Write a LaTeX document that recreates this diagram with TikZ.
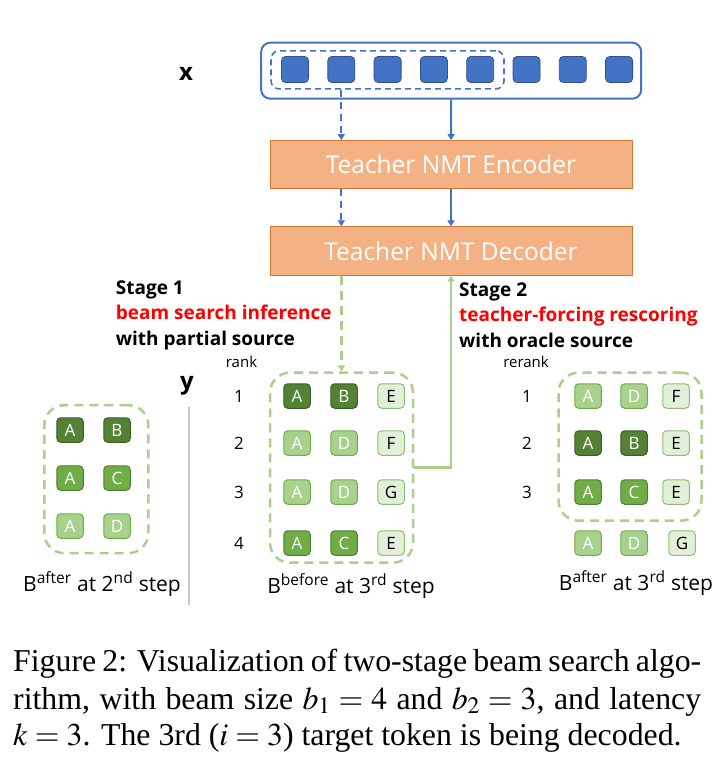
\documentclass[tikz,border=0pt]{standalone}
\usepackage{mathptmx}
\usepackage{fontspec}
\setmainfont{Liberation Serif}
\newfontfamily\diag{Open Sans}
\usetikzlibrary{arrows.meta,positioning,calc}
\definecolor{srcblue}{HTML}{4472C4}
\definecolor{srcline}{HTML}{2F528F}
\definecolor{nmtfill}{HTML}{F4B183}
\definecolor{nmtline}{HTML}{D9742F}
\definecolor{gdark}{HTML}{548235}
\definecolor{gdarkline}{HTML}{3B5E25}
\definecolor{gmed}{HTML}{70AD47}
\definecolor{gmedline}{HTML}{507E32}
\definecolor{glight}{HTML}{A9D18E}
\definecolor{glightline}{HTML}{70AD47}
\definecolor{gvlight}{HTML}{E2F0D9}
\definecolor{gvlightline}{HTML}{8FC06E}
\definecolor{beamgreen}{HTML}{A9D18E}
\definecolor{sepgray}{HTML}{C8C8C8}
\tikzset{
srctok/.style={draw=srcline, fill=srcblue, line width=0.8pt, rounded corners=4pt, minimum width=27pt, minimum height=26pt, inner sep=0pt},
srcbox/.style={draw=srcblue, line width=2pt, rounded corners=9pt},
partbox/.style={draw=srcblue, line width=1.6pt, dash pattern=on 6pt off 4pt, rounded corners=8pt},
nmt/.style={draw=nmtline, fill=nmtfill, line width=1pt, minimum width=362pt, text=white, font=\diag\fontsize{24.5}{27}\selectfont},
tok/.style={rounded corners=4pt, line width=1pt, minimum width=26.5pt, minimum height=24.5pt, inner sep=0pt, font=\diag\fontsize{17}{17}\selectfont},
tokD/.style={tok, fill=gdark, draw=gdarkline, text=white},
tokM/.style={tok, fill=gmed, draw=gmedline, text=white},
tokL/.style={tok, fill=glight, draw=glightline, text=white},
tokV/.style={tok, fill=gvlight, draw=gvlightline, text=black},
beam/.style={draw=beamgreen, line width=2.5pt, dash pattern=on 9pt off 6pt, rounded corners=20pt},
barrow/.style={-{Triangle[length=6pt,width=7pt]}, draw=srcblue, line width=2pt},
bdash/.style={barrow, dash pattern=on 7pt off 5pt},
garrow/.style={-{Triangle[length=6pt,width=7pt]}, draw=beamgreen, line width=2.5pt},
gdash/.style={garrow, dash pattern=on 9pt off 6pt},
varlab/.style={font=\diag\bfseries\fontsize{24}{24}\selectfont},
stage/.style={align=left, inner sep=0pt, font=\diag\bfseries\fontsize{19}{25.5}\selectfont},
ranknum/.style={font=\diag\fontsize{17}{17}\selectfont},
rankhead/.style={font=\diag\fontsize{15}{15}\selectfont},
steplab/.style={font=\diag\fontsize{21}{21}\selectfont},
capt/.style={inner sep=0pt, anchor=base west, font=\fontsize{31.8}{37}\selectfont}
}
\begin{document}
\begin{tikzpicture}[x=1pt, y=-1pt]
\useasboundingbox (0,0) rectangle (718,765);
% source sentence
\foreach \i in {1,...,8}
  \node[srctok] (x\i) at ({295+46.3*(\i-1)},69.5) {};
\node[srcbox, minimum width=380pt, minimum height=56pt] (src) at (451.2,70.7) {};
\node[partbox, minimum width=233pt, minimum height=38pt] (part) at (387.5,69.9) {};
\node[varlab] (xlab) at (186,74) {x};
% teacher model
\node[nmt, minimum height=47.6pt] (enc) at (451,164.5) {Teacher NMT Encoder};
\node[nmt, minimum height=48.3pt] (dec) at (451,251) {Teacher NMT Decoder};
\draw[bdash] (x2 |- part.south) -- (x2 |- enc.north);
\draw[barrow] (src.south) -- (enc.north);
\draw[bdash] (enc.south -| x2) -- (dec.north -| x2);
\draw[barrow] (enc) -- (dec);
% stage labels
\node[stage, anchor=west] (st1) at (115.7,315) {Stage 1\\\textcolor{red}{beam search inference}\\with partial source};
\node[stage, anchor=west] (st2) at (459,315) {Stage 2\\\textcolor{red}{teacher-forcing rescoring}\\with oracle source};
\node[rankhead] (rankh) at (241.5,362) {rank};
\node[rankhead] (rerankh) at (526,362) {rerank};
\node[varlab] (ylab) at (187,386) {y};
\draw[sepgray, line width=2pt] (189,407) -- (189,605);
% beam after 2nd step
\foreach \y/\sa/\a/\sb/\b [count=\row] in {430/tokD/A/tokD/B, 478/tokM/A/tokM/C, 526/tokL/A/tokL/D}{
  \node[\sa] (l\row-1) at (70,\y) {\a};
  \node[\sb] (l\row-2) at (117,\y) {\b};
}
\node[beam, minimum width=104pt, minimum height=148pt] (left) at (96.3,479.2) {};
\node[steplab] (leftlab) at (102,584) {B\textsuperscript{after} at 2\textsuperscript{nd} step};
% beam before 3rd step
\foreach \y/\sa/\a/\sb/\b/\c [count=\row] in {396/tokD/A/tokD/B/E, 443/tokL/A/tokL/D/F, 492/tokL/A/tokL/D/G, 543/tokM/A/tokM/C/E}{
  \node[\sa] (m\row-1) at (297,\y) {\a};
  \node[\sb] (m\row-2) at (344,\y) {\b};
  \node[tokV] (m\row-3) at (391,\y) {\c};
  \node[ranknum] (rk\row) at (239,\y) {\row};
}
\node[beam, minimum width=143pt, minimum height=190pt] (mid) at (341.5,467.7) {};
\node[steplab] (midlab) at (351,586) {B\textsuperscript{before} at 3\textsuperscript{rd} step};
% beam after 3rd step
\foreach \y/\sa/\a/\sb/\b/\c [count=\row] in {396/tokL/A/tokL/D/F, 443/tokD/A/tokD/B/E, 492/tokM/A/tokM/C/E}{
  \node[\sa] (r\row-1) at (588,\y) {\a};
  \node[\sb] (r\row-2) at (634,\y) {\b};
  \node[tokV] (r\row-3) at (676,\y) {\c};
  \node[ranknum] (rr\row) at (527,\y) {\row};
}
\node[tokL] (r4-1) at (588,543) {A};
\node[tokL] (r4-2) at (634,543) {D};
\node[tokV] (r4-3) at (682,543) {G};
\node[beam, minimum width=143pt, minimum height=148pt] (right) at (630,446.7) {};
\node[steplab] (rightlab) at (636,583) {B\textsuperscript{after} at 3\textsuperscript{rd} step};
% stage arrows
\draw[gdash] (dec.south -| mid.north) -- (mid.north);
\draw[garrow] (mid.east) -| (dec.south);
% caption
\node[capt] (cap1) at (13,671.7) {\hbox to 688pt{Figure 2: Visualization of two-stage beam search algo-}};
\node[capt] (cap2) at (13,709) {\hbox to 688pt{rithm, with beam size $b_1 = 4$ and $b_2 = 3$, and latency}};
\node[capt] (cap3) at (13,745) {$k = 3$. The 3rd ($i = 3$) target token is being decoded.};
\end{tikzpicture}
\end{document}
